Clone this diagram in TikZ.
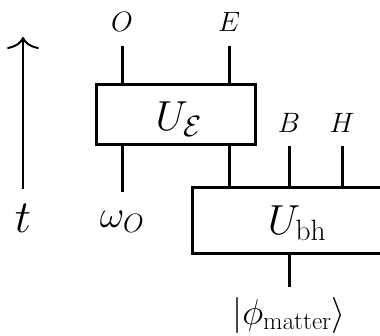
\RequirePackage{fix-cm}
\documentclass[tikz,border=0pt]{standalone}
\usetikzlibrary{arrows.meta}
\begin{document}
\begin{tikzpicture}[x=1pt,y=-1pt,
  wire/.style={line width=3pt},
  gatebox/.style={draw,line width=3pt,inner sep=0pt},
  small/.style={font=\fontsize{28}{32}\selectfont,anchor=base},
  big/.style={font=\fontsize{42}{48}\selectfont,anchor=base},
  mid/.style={font=\fontsize{38}{44}\selectfont,anchor=base}]
\useasboundingbox (0,0) rectangle (380,335);
\clip (0,0) rectangle (380,335);
% boxes
\node[gatebox,minimum width=159pt,minimum height=60pt] (UE) at (175.5,114) {};
\node[gatebox,minimum width=194pt,minimum height=66pt] (Ubh) at (289,220) {};
\node[big] (UElab) at (179,130) {$U_{\mathcal{E}}$};
\node[big] (Ubhlab) at (297,234) {$U_{\mathrm{bh}}$};
% labels
\node[small] (O) at (122,31) {$O$};
\node[small] (E) at (229,31) {$E$};
\node[small] (B) at (289,132) {$B$};
\node[small] (H) at (342,132) {$H$};
\node[mid] (w) at (122,227) {$\omega_O$};
\node[font=\fontsize{46}{52}\selectfont,anchor=base] (t) at (23,232) {$t$};
\node[font=\fontsize{36}{42}\selectfont,anchor=base] (phi) at (289,324) {$|\phi_{\mathrm{matter}}\rangle$};
% wire ends
\coordinate (Otop) at (122,46);
\coordinate (Etop) at (229,46);
\coordinate (Bt) at (289,146);
\coordinate (Ht) at (342,146);
\coordinate (wb) at (122,192);
\coordinate (phit) at (289,287);
\coordinate (tb) at (23,189);
\coordinate (tt) at (23,37);
% wires
\draw[wire] (Otop) -- (Otop |- UE.north);
\draw[wire] (Etop) -- (Etop |- UE.north);
\draw[wire] (Otop |- UE.south) -- (wb);
\draw[wire] (Etop |- UE.south) -- (Etop |- Ubh.north);
\draw[wire] (Bt) -- (Bt |- Ubh.north);
\draw[wire] (Ht) -- (Ht |- Ubh.north);
\draw[wire] (Ubh.south) -- (phit);
\draw[line width=2pt,-{Computer Modern Rightarrow[length=12pt,width=32pt]}] (tb) -- (tt);
\end{tikzpicture}
\end{document}
